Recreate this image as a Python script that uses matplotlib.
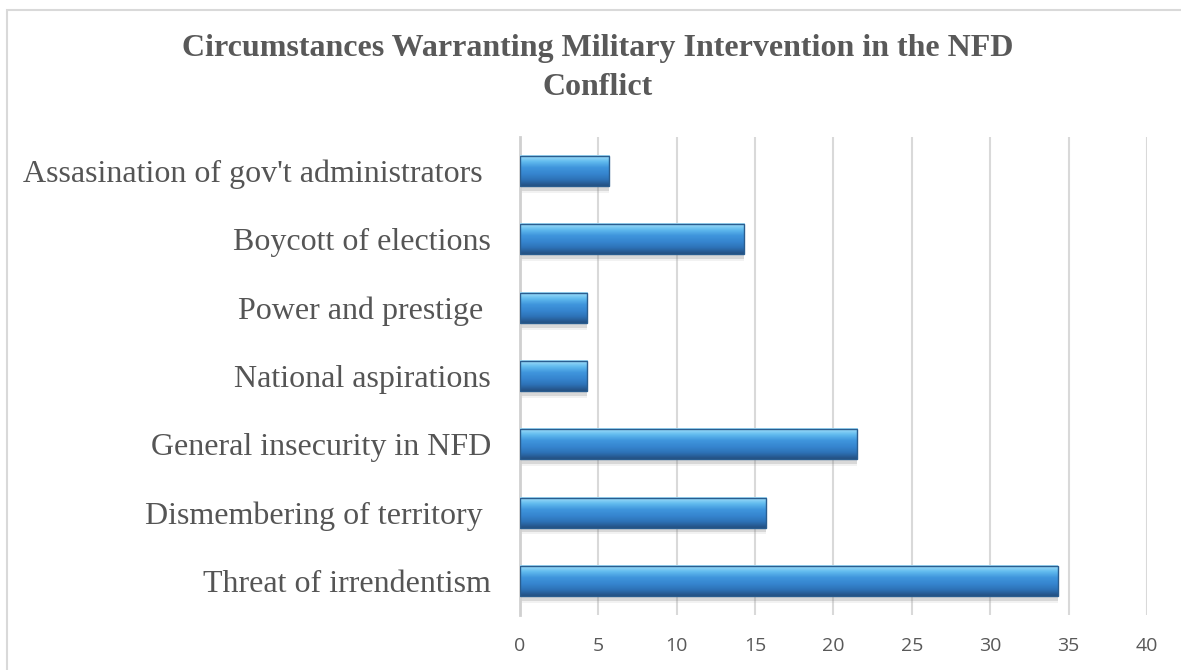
import numpy as np
import matplotlib.pyplot as plt
from matplotlib.colors import LinearSegmentedColormap

# данные
categories = [
    "Assasination of gov't administrators ",
    "Boycott of elections",
    "Power and prestige ",
    "National aspirations",
    "General insecurity in NFD",
    "Dismembering of territory ",
    "Threat of irrendentism",
]
values = [5.7, 14.3, 4.3, 4.3, 21.5, 15.7, 34.3]
xticks = [0, 5, 10, 15, 20, 25, 30, 35, 40]

title = "Circumstances Warranting Military Intervention in the NFD\nConflict"

fig = plt.figure(figsize=(11.81, 6.70), dpi=100)
ax = fig.add_axes([0.4403, 0.082, 0.9712 - 0.4403, 0.7955 - 0.082])

# градиент для "объёмных" столбцов
grad = LinearSegmentedColormap.from_list(
    "bar3d", ["#a8e2fb", "#62bcef", "#3f95dc", "#3686d0", "#2d72b7", "#244f80"])
gimg = np.linspace(0, 1, 64).reshape(-1, 1)

h = 0.44
ypos = np.arange(len(categories))

# тень под столбцами
ax.barh(ypos + 0.07, values, height=h, color="#7a7a7a", alpha=0.22,
        edgecolor="none", zorder=2)
ax.barh(ypos + 0.10, values, height=h, color="#9a9a9a", alpha=0.12,
        edgecolor="none", zorder=2)

for y, v in zip(ypos, values):
    ax.imshow(gimg, cmap=grad, aspect="auto", interpolation="bicubic",
              extent=(0, v, y + h / 2, y - h / 2), zorder=3)

ax.barh(ypos, values, height=h, color="none", edgecolor="#2a5d8f",
        linewidth=1.0, zorder=4)

ax.set_xlim(0, 40)
ax.set_ylim(len(categories) - 0.5, -0.5)
ax.set_xticks(xticks)
ax.set_yticks(ypos)
ax.set_yticklabels(categories, family="Liberation Serif", fontsize=23,
                   color="#555555")
ax.tick_params(axis="y", length=0, pad=21)
ax.tick_params(axis="x", length=0, pad=16, labelsize=14, labelcolor="#595959")
for lbl in ax.get_xticklabels():
    lbl.set_family("Open Sans")

ax.grid(axis="x", color="#d9d9d9", linewidth=1.5, zorder=0)
ax.set_axisbelow(True)
for s in ["top", "right", "bottom"]:
    ax.spines[s].set_visible(False)
ax.spines["left"].set_color("#d0d0d0")
ax.spines["left"].set_linewidth(2)

fig.text(0.506, 0.899, title, ha="center", va="center",
         family="Liberation Serif", weight="bold", fontsize=23,
         color="#595959", linespacing=1.45)

# рамка диаграммы
fig.add_artist(plt.Rectangle((0.006, -0.02), 1.02, 1.005, transform=fig.transFigure,
                             fill=False, edgecolor="#d9d9d9", linewidth=1.5))

fig.savefig("out.png", dpi=100)
plt.close(fig)
